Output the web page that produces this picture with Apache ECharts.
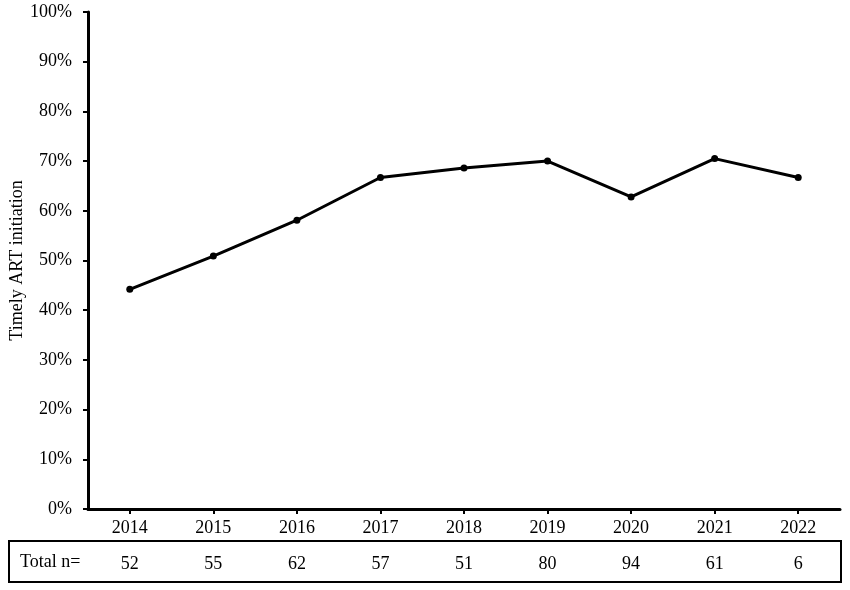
<!DOCTYPE html>
<html>
<head>
<meta charset="utf-8">
<script src="https://cdn.jsdelivr.net/npm/echarts@6/dist/echarts.min.js"></script>
<style>html,body{margin:0;padding:0;background:#fff}#c{width:850px;height:590px}</style>
</head>
<body>
<div id="c"></div>
<script>
var years = ['2014','2015','2016','2017','2018','2019','2020','2021','2022'];
var timelyPct = [44.2, 50.9, 58.1, 66.7, 68.6, 70.0, 62.8, 70.5, 66.7];
var totalN = ['52','55','62','57','51','80','94','61','6'];
var yTicks = [0,10,20,30,40,50,60,70,80,90,100];

var font = 'Liberation Serif, Times New Roman, serif';
var chart = echarts.init(document.getElementById('c'), null, {renderer:'canvas'});
chart.setOption({
  animation:false,
  backgroundColor:'#fff',
  grid:{left:88,right:10,top:12,bottom:81,containLabel:false,outerBoundsMode:'none'},
  xAxis:[{
    type:'category', data:years, boundaryGap:true,
    axisLine:{show:true,lineStyle:{color:'#000',width:3}},
    axisTick:{show:true,alignWithLabel:true,length:5,lineStyle:{color:'#000',width:2}},
    axisLabel:{color:'#000',fontFamily:font,fontSize:18,margin:10},
    splitLine:{show:false}
  },{
    type:'category', data:totalN, position:'bottom', offset:38, boundaryGap:true,
    axisLine:{show:false}, axisTick:{show:false},
    axisLabel:{color:'#000',fontFamily:font,fontSize:18,margin:8},
    splitLine:{show:false}
  }],
  yAxis:{
    type:'value', min:yTicks[0], max:yTicks[yTicks.length-1], interval:10,
    name:'Timely ART initiation', nameLocation:'middle', nameGap:71, nameRotate:90,
    nameMoveOverlap:false,
    nameTextStyle:{color:'#000',fontFamily:font,fontSize:18,verticalAlign:'middle'},
    axisLine:{show:true,lineStyle:{color:'#000',width:3}},
    axisTick:{show:true,length:5,lineStyle:{color:'#000',width:2}},
    axisLabel:{color:'#000',fontFamily:font,fontSize:18,margin:16,formatter:'{value}%'},
    splitLine:{show:false}
  },
  series:[{
    type:'line', data:timelyPct, xAxisIndex:0,
    symbol:'circle', symbolSize:7,
    lineStyle:{color:'#000',width:3},
    itemStyle:{color:'#000'}
  }],
  graphic:[
    {type:'rect',shape:{x:9,y:541,width:832,height:41},style:{fill:'none',stroke:'#000',lineWidth:2}},
    {type:'text',left:20,top:553,style:{text:'Total n=',fill:'#000',font:'18px '+font}}
  ]
});
</script>
</body>
</html>
